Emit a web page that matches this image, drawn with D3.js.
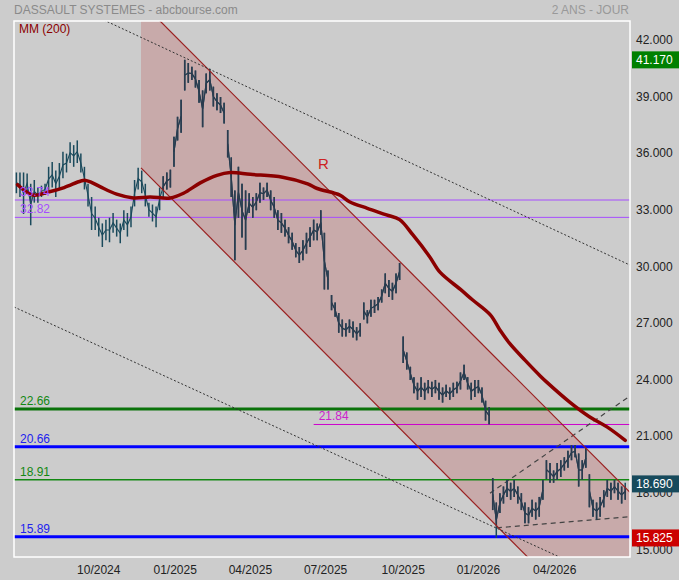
<!DOCTYPE html>
<html><head><meta charset="utf-8">
<script src="https://cdn.jsdelivr.net/npm/d3@7/dist/d3.min.js"></script>
<style>body{margin:0;background:#cccccc;}svg{display:block;font-family:"Liberation Sans",Arial,sans-serif;}</style>
</head><body>
<svg id="c" width="679" height="580"></svg>
<script>
// ---- data ----
const title = "DASSAULT SYSTEMES - abcbourse.com";
const period = "2 ANS - JOUR";
const nBars = 516;
const sampleStep = 3, sampleOffset = 2;
const hi = [35.2,35.2,35.2,35.15,34.6,34.8,34.4,34.5,34.6,35.5,35.75,35.3,35.7,36.3,36.2,36.8,36.65,36.9,36.2,35.5,
34.6,33.9,33.4,32.8,32.5,32.7,32.8,33.05,32.7,32.5,33.2,33.05,33.4,34.8,35.45,35.3,34.6,33.6,33.5,33.4,
34.4,35.0,35.2,35.35,37.1,38.15,39.05,41.17,41.0,40.8,40.6,40.1,39.55,40.45,40.7,39.75,39.4,39.2,38.9,37.45,
36.0,34.25,35.5,34.6,34.25,34.1,33.9,34.1,34.65,34.4,34.65,34.25,33.9,33.2,33.05,32.7,32.3,32.0,31.45,31.25,
31.6,32.0,32.3,32.7,32.5,33.2,32.0,30.0,28.7,28.3,27.75,27.4,27.2,27.4,27.3,27.0,27.2,28.3,27.9,28.45,
28.45,28.6,29.0,29.85,29.5,29.35,29.85,30.4,26.5,25.65,24.9,24.35,24.05,24.35,24.05,24.2,24.1,24.2,24.05,23.8,
23.95,23.8,24.05,24.1,24.6,25.0,24.35,24.05,24.2,24.2,23.8,23.1,22.75,19.0,17.7,18.2,18.55,18.9,18.75,18.9,
18.55,18.2,17.7,17.45,17.85,17.7,18.0,18.9,19.95,19.8,19.4,19.8,19.95,20.1,20.45,20.75,20.75,20.3,19.95,20.6,
19.2,17.85,17.7,18.0,18.35,18.9,18.75,18.9,18.75,18.55,18.75];
const lo = [34.1,33.9,33.0,34.1,32.4,33.6,33.6,33.9,34.0,34.2,34.4,33.9,34.3,34.9,35.2,35.7,35.5,35.7,35.2,34.3,
33.4,32.15,32.15,31.8,31.25,31.6,31.5,32.0,31.8,31.45,32.15,31.8,32.3,33.4,34.3,34.1,33.4,32.85,32.6,32.3,
33.2,33.9,34.3,34.4,35.5,36.9,37.3,39.55,39.95,40.1,39.7,38.9,37.6,39.4,39.55,38.7,38.5,38.35,37.8,36.0,
33.9,30.55,32.8,31.75,31.1,33.05,32.8,33.2,33.6,33.75,33.9,33.2,32.8,32.15,32.0,31.8,31.45,31.1,30.7,30.4,
30.55,30.9,31.25,31.6,31.6,31.9,29.0,29.0,27.9,27.55,26.7,26.5,26.5,26.7,26.45,26.3,26.5,27.4,27.2,27.55,
27.75,27.9,28.3,28.8,28.6,28.45,28.8,29.5,25.1,24.75,24.2,23.5,23.15,23.3,23.15,23.5,23.3,23.5,23.15,23.0,
23.3,23.15,23.3,23.5,23.7,24.2,23.7,23.15,23.3,23.5,23.0,22.05,21.85,17.3,15.825,17.15,17.65,18.0,17.85,18.0,
17.65,17.3,16.6,16.6,16.95,16.8,16.95,17.85,18.95,18.75,18.75,18.9,19.05,19.4,19.55,19.95,20.1,18.55,18.9,19.55,
17.45,16.95,16.8,16.95,17.45,18.0,17.85,18.2,17.85,17.65,17.85];
const lastClose = 18.69, maxHigh = 41.17, minLow = 15.825;

const mmIdx = [3,16,28,42,56,60,64,72,86,100,114,131,142,156,170,181,198,225,246,254,273,281,296,312,323,334,348,357,374,384,399,407,415,428,441,446,466,482,497,512];
const mmVal = [34.55,34.0,34.15,34.4,34.75,34.78,34.7,34.45,34.05,33.85,33.9,33.85,34.1,34.65,35.05,35.2,35.1,34.95,34.6,34.35,34.0,33.65,33.3,32.95,32.7,31.9,30.75,29.9,29.0,28.45,27.65,26.85,26.15,25.25,24.4,24.1,23.0,22.25,21.7,21.0];

const levelValues = [33.74,32.82,22.66,21.84,20.66,18.91,15.89];
const levelLabels = ["33.74","32.82","22.66","21.84","20.66","18.91","15.89"];
const levelStart = [0,0,0,251,0,0,0];

const channelIdx = [106.4,516,516,106.4];
const channelVal = [44.24,18.24,9.35,35.44];
const upperLine = {idx:[106.4,516], val:[44.24,18.24]};
const lowerLine = {idx:[106.4,516], val:[35.44,9.35]};
const dotUpper = {idx:[60,516], val:[43.73,30.29]};
const dotLower = {idx:[0,516], val:[28.07,13.1]};
const dashRise = {idx:[398.7,516], val:[18.20,23.35]};
const dashLow  = {idx:[404.5,516], val:[16.36,16.95]};

const yTicks = [42,39,36,33,30,27,24,21,18,15];
const xTickIdx = [71,135,198,261,326,389,453];
const xTickLabels = ["10/2024","01/2025","04/2025","07/2025","10/2025","01/2026","04/2026"];

// ---- chart ----
const svg = d3.select("#c");
const L=14,R=630,T=21,B=557;
const x = d3.scaleLinear().domain([0,nBars]).range([L,R]);
const y = d3.scaleLinear().domain([15,42]).range([553.5,44.2]);

svg.append("rect").attr("width",679).attr("height",580).attr("fill","#cccccc");
const defs = svg.append("defs");
defs.append("clipPath").attr("id","clip").append("rect")
  .attr("x",L).attr("y",T).attr("width",R-L).attr("height",B-T);
const chanPath = d3.line().x(d=>x(d[0])).y(d=>y(d[1]))(channelIdx.map((c,k)=>[c,channelVal[k]]))+"Z";
defs.append("clipPath").attr("id","chanclip").append("path").attr("d",chanPath);

const plot = svg.append("g").attr("clip-path","url(#clip)");

const lvlColor = ["#a64dff","#a64dff","#0a720a","#cc00cc","#0000ff","#128812","#0000ff"];
const lvlWidth = [1,1,3,1,3,1.5,3];
const lvlText  = ["#a64dff","#a64dff","#128812","#cc22cc","#2222ee","#128812","#2222ee"];

// level labels
levelValues.forEach((v,k)=>{
  const x0 = x(levelStart[k]);
  svg.append("text").attr("x", levelStart[k] ? x0+5 : 20).attr("y", y(v)-4)
    .attr("font-size",12).attr("fill",lvlText[k]).text(levelLabels[k]);
});

// channel shading
plot.append("path").attr("d", chanPath).attr("fill","rgb(200,170,170)");

// level lines
levelValues.forEach((v,k)=>{
  plot.append("line").attr("x1",x(levelStart[k])).attr("x2",R).attr("y1",y(v)).attr("y2",y(v))
    .attr("stroke",lvlColor[k]).attr("stroke-width",lvlWidth[k]);
});

function seg(o,color,w,dash){
  plot.append("line").attr("x1",x(o.idx[0])).attr("y1",y(o.val[0]))
    .attr("x2",x(o.idx[1])).attr("y2",y(o.val[1]))
    .attr("stroke",color).attr("stroke-width",w).attr("stroke-dasharray",dash||null);
}
seg(dashRise,"#444",1.2,"5,4");
seg(dashLow,"#444",1.2,"5,4");

// bars
const samples = hi.map((h,j)=>({i:sampleOffset+sampleStep*j,h:h,l:lo[j]}));
const segs = [];
samples.forEach((d,j)=>{
  const p = samples[j-1];
  if (!p || d.l > p.h || d.h < p.l) segs.push([]);
  segs[segs.length-1].push(d);
});
function drawBars(g,color){
  g.selectAll("path.mid").data(segs).enter().append("path").attr("class","mid")
    .attr("d", d3.line().x(d=>x(d.i)).y(d=>y((d.h+d.l)/2)))
    .attr("fill","none").attr("stroke",color).attr("stroke-width",1.1);
  g.selectAll("line.bar").data(samples).enter().append("line").attr("class","bar")
    .attr("x1",d=>x(d.i)).attr("x2",d=>x(d.i)).attr("y1",d=>y(d.h)).attr("y2",d=>y(d.l))
    .attr("stroke",color).attr("stroke-width",1.5);
}
drawBars(plot.append("g"),"#1a4a5c");
drawBars(plot.append("g").attr("clip-path","url(#chanclip)"),"#2b3b4e");

seg(upperLine,"#9a2020",1.2);
seg(lowerLine,"#9a2020",1.2);
seg(dotUpper,"#333",1,"2,2");
seg(dotLower,"#333",1,"2,2");

// MM 200
plot.append("path").datum(mmIdx.map((c,k)=>[c,mmVal[k]]))
  .attr("d", d3.line().x(d=>x(d[0])).y(d=>y(d[1])).curve(d3.curveCatmullRom))
  .attr("fill","none").attr("stroke","#8b0000").attr("stroke-width",3.5).attr("stroke-linecap","round");

// border
svg.append("rect").attr("x",L).attr("y",T).attr("width",R-L).attr("height",B-T)
  .attr("fill","none").attr("stroke","#ffffff").attr("stroke-width",1.5);

// y axis
const yAxis = svg.append("g").attr("transform",`translate(${R+6},0)`);
yTicks.forEach(t=>{
  yAxis.append("text").attr("x",0).attr("y",y(t)).attr("font-size",12).attr("fill","#222").text(d3.format(".3f")(t));
});
// x axis
xTickIdx.forEach((t,k)=>{
  svg.append("text").attr("x",x(t)).attr("y",574).attr("text-anchor","middle")
    .attr("font-size",12).attr("fill","#222").text(xTickLabels[k]);
});

// value boxes
function box(v,color){
  const cy = y(v);
  svg.append("rect").attr("x",632).attr("y",cy-8.5).attr("width",47).attr("height",17).attr("fill",color);
  svg.append("text").attr("x",636).attr("y",cy+4.3).attr("font-size",12).attr("fill","#fff").text(d3.format(".3f")(v));
}
box(maxHigh,"#008000");
box(lastClose,"#174a5c");
box(minLow,"#cc0000");

// titles
svg.append("text").attr("x",14).attr("y",14).attr("font-size",12).attr("fill","#8a8a8a").text(title);
svg.append("text").attr("x",629).attr("y",14).attr("text-anchor","end").attr("font-size",12).attr("fill","#999").text(period);
svg.append("text").attr("x",19).attr("y",33).attr("font-size",12).attr("fill","#8b0000").text("MM (200)");
svg.append("text").attr("x",318).attr("y",169).attr("font-size",15).attr("fill","#cc2222").text("R");
</script>
</body></html>
